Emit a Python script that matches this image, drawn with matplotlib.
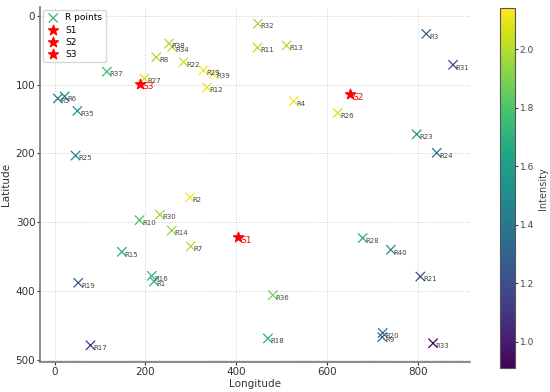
import matplotlib

matplotlib.use("Agg")
import matplotlib.pyplot as plt
import numpy as np

# R points: name, longitude, latitude, intensity
r_names = ["R1", "R2", "R3", "R4", "R5", "R6", "R7", "R8", "R9", "R10",
           "R11", "R12", "R13", "R14", "R15", "R16", "R17", "R18", "R19", "R20",
           "R21", "R22", "R23", "R24", "R25", "R26", "R27", "R28", "R29", "R30",
           "R31", "R32", "R33", "R34", "R35", "R36", "R37", "R38", "R39", "R40"]
r_lon = [219, 298, 819, 527, 7, 22, 300, 224, 722, 187,
         447, 336, 511, 258, 148, 214, 79, 470, 52, 723,
         806, 284, 798, 842, 46, 624, 198, 679, 328, 232,
         878, 448, 834, 259, 50, 481, 115, 252, 350, 741]
r_lat = [386, 264, 26, 124, 120, 117, 335, 60, 467, 297,
         46, 104, 43, 312, 343, 378, 479, 469, 388, 461,
         379, 67, 172, 199, 203, 141, 91, 323, 79, 289,
         71, 11, 476, 45, 138, 406, 81, 40, 84, 340]
r_int = [1.70, 2.12, 1.30, 2.12, 1.40, 1.48, 2.00, 1.98, 1.30, 1.78,
         2.00, 2.10, 2.00, 1.95, 1.70, 1.72, 1.10, 1.68, 1.25, 1.32,
         1.20, 2.05, 1.52, 1.35, 1.50, 2.05, 2.06, 1.65, 2.12, 1.95,
         1.15, 1.98, 0.91, 2.00, 1.55, 1.88, 1.75, 2.00, 2.14, 1.50]

# S points
s_names = ["S1", "S2", "S3"]
s_lon = [404, 650, 187]
s_lat = [322, 114, 99]

fig = plt.figure(figsize=(5.5, 3.92), dpi=100)
ax = fig.add_axes([0.073, 0.077, 0.782, 0.905])
cax = fig.add_axes([0.909, 0.061, 0.028, 0.918])

sc = ax.scatter(r_lon, r_lat, c=r_int, cmap="viridis", marker="x", s=45,
                linewidths=0.9, label="R points", zorder=3)
for n, x, y in zip(r_names, r_lon, r_lat):
    ax.text(x + 6, y + 4, n, fontsize=5, color="#444444", va="center", ha="left")

for n, x, y in zip(s_names, s_lon, s_lat):
    ax.scatter([x], [y], marker="*", color="red", s=55, label=n, zorder=4)
    ax.text(x + 6, y + 4, n, fontsize=6.5, color="red", va="center", ha="left")

ax.set_xlim(-32, 916)
ax.set_ylim(503, -13)
ax.set_xticks([0, 200, 400, 600, 800])
ax.set_yticks([0, 100, 200, 300, 400, 500])
ax.set_xlabel("Longitude", fontsize=7.5, color="#333333", labelpad=1.5)
ax.set_ylabel("Latitude", fontsize=7.5, color="#333333", labelpad=3)
ax.tick_params(labelsize=7.5, colors="#333333", length=2, pad=1.5)
ax.grid(True, linestyle=":", color="#cccccc", linewidth=0.7)
for side in ["top", "right"]:
    ax.spines[side].set_visible(False)
for side in ["left", "bottom"]:
    ax.spines[side].set_color("#777777")
    ax.spines[side].set_linewidth(1.2)

leg = ax.legend(loc="upper left", fontsize=6.5, frameon=True, borderpad=0.4,
                handletextpad=0.6, labelspacing=0.35, handlelength=1.5,
                bbox_to_anchor=(0.0, 1.0), borderaxespad=0.3)
leg.legend_handles[0].set_color(plt.cm.viridis(0.65))

cb = fig.colorbar(sc, cax=cax)
cb.set_ticks([1.0, 1.2, 1.4, 1.6, 1.8, 2.0])
cb.ax.tick_params(labelsize=6.5, colors="#444444", length=2, pad=1)
cb.set_label("Intensity", fontsize=7, color="#444444", labelpad=3)
cb.outline.set_edgecolor("#555555")

fig.savefig("out.png", dpi=100)
